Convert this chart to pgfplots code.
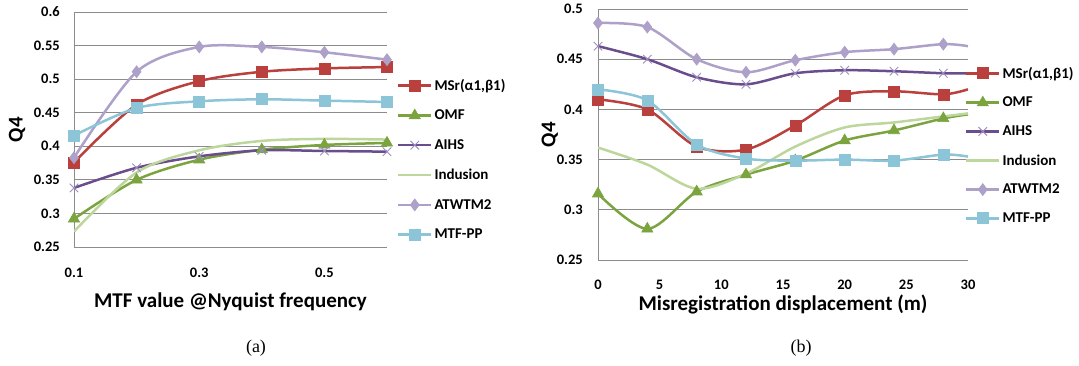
\documentclass[border=0pt]{standalone}
\usepackage{fontspec}
\setmainfont{Carlito}
\newfontfamily\capfont{Liberation Serif}
\usepackage{pgfplots}
\usepackage{pgfplotstable}
\pgfplotsset{compat=1.18}

\definecolor{cMSr}{HTML}{B9403C}
\definecolor{cOMF}{HTML}{7BA43F}
\definecolor{cAIHS}{HTML}{6A4D8D}
\definecolor{cAIHSm}{HTML}{9D8EC2}
\definecolor{cInd}{HTML}{BDD69B}
\definecolor{cATW}{HTML}{ADA0C9}
\definecolor{cMTF}{HTML}{8CC5D7}
\definecolor{cgrid}{HTML}{8C8C8C}

\pgfplotstableread{
x   MSr   OMF   AIHS  Ind   ATW   MTF
0.1 0.376 0.292 0.338 0.273 0.383 0.416
0.2 0.462 0.350 0.368 0.361 0.511 0.457
0.3 0.497 0.380 0.385 0.394 0.548 0.467
0.4 0.511 0.395 0.394 0.408 0.548 0.470
0.5 0.516 0.402 0.393 0.411 0.540 0.468
0.6 0.518 0.405 0.392 0.410 0.529 0.466
}\dL

\pgfplotstableread{
x  MSr   OMF   AIHS  Ind   ATW   MTF
0  0.410 0.316 0.463 0.362 0.486 0.420
4  0.400 0.281 0.450 0.345 0.482 0.409
8  0.363 0.318 0.432 0.321 0.450 0.365
12 0.360 0.335 0.425 0.336 0.437 0.351
16 0.384 0.349 0.436 0.363 0.449 0.349
20 0.414 0.369 0.439 0.382 0.457 0.350
24 0.418 0.379 0.438 0.387 0.460 0.349
28 0.415 0.391 0.436 0.393 0.465 0.355
30 0.420 0.395 0.436 0.396 0.463 0.353
}\dR

\pgfplotsset{
  common/.style={
    scale only axis,
    axis lines*=left,
    axis line style={cgrid, line width=1pt},
    ymajorgrids,
    major grid style={cgrid, line width=0.9pt},
    tick style={draw=none},
    /pgf/number format/assume math mode=true,
    ticklabel style={font=\bfseries\fontsize{14.5}{14.5}\selectfont, inner sep=0pt},
    label style={font=\bfseries\fontsize{21}{21}\selectfont, anchor=center},
    legend style={draw=none, fill=none, font=\bfseries\fontsize{15}{15}\selectfont,
      anchor=north west, inner sep=0pt, outer sep=0pt},
    legend cell align=left,
    legend image code/.code={\draw[mark repeat=2,mark phase=2,##1] plot coordinates {(0pt,0pt) (16.5pt,0pt) (33pt,0pt)};},
    every axis plot/.append style={line width=2.5pt, smooth},
  },
  sMSr/.style={cMSr, mark=square*, mark size=5.5pt, mark options={fill=cMSr, draw=cMSr, line width=0.6pt}},
  sOMF/.style={cOMF, mark=triangle*, mark size=6.5pt, mark options={fill=cOMF, draw=cOMF, line width=0.6pt}},
  sAIHS/.style={cAIHS, mark=x, mark size=6pt, mark options={draw=cAIHSm, line width=0.9pt}},
  sInd/.style={cInd, no markers},
  sATW/.style={cATW, mark=diamond*, mark size=6pt, mark options={fill=cATW, draw=cATW, line width=0.6pt}},
  sMTF/.style={cMTF, mark=square*, mark size=5.5pt, mark options={fill=cMTF, draw=cMTF, line width=0.6pt}},
}

\begin{document}
\begin{tikzpicture}
\useasboundingbox (0,0) rectangle (1079pt,365pt);

% ---------- (a) ----------
\begin{axis}[common,
  at={(74pt,118pt)}, anchor=south west,
  width=313pt, height=235pt,
  xmin=0.1, xmax=0.6, ymin=0.25, ymax=0.6,
  xtick={0.1,0.3,0.5}, xticklabels={0.1,0.3,0.5},
  ytick={0.25,0.3,0.35,0.4,0.45,0.5,0.55,0.6},
  yticklabels={0.25,0.3,0.35,0.4,0.45,0.5,0.55,0.6},
  xticklabel style={anchor=center, yshift=-26pt},
  yticklabel style={anchor=east, xshift=-14pt},
  xlabel={MTF value @Nyquist frequency},
  ylabel={Q4},
  xlabel style={at={(axis description cs:0.5,-0.234)}},
  ylabel style={at={(axis description cs:-0.182,0.5)}},
  legend style={at={(rel axis cs:1.032,0.723)}, row sep=14.2pt},
]
\addplot[sMSr] table[x=x,y=MSr]{\dL}; \addlegendentry{MSr(α1,β1)}
\addplot[sOMF] table[x=x,y=OMF]{\dL}; \addlegendentry{OMF}
\addplot[sAIHS] table[x=x,y=AIHS]{\dL}; \addlegendentry{AIHS}
\addplot[sInd] table[x=x,y=Ind]{\dL}; \addlegendentry{Indusion}
\addplot[sATW] table[x=x,y=ATW]{\dL}; \addlegendentry{ATWTM2}
\addplot[sMTF] table[x=x,y=MTF]{\dL}; \addlegendentry{MTF-PP}
\end{axis}

% ---------- (b) ----------
\begin{axis}[common,
  at={(598pt,105pt)}, anchor=south west,
  width=370pt, height=251pt,
  xmin=0, xmax=30, ymin=0.25, ymax=0.5,
  xtick={0,5,10,15,20,25,30},
  ytick={0.25,0.3,0.35,0.4,0.45,0.5},
  yticklabels={0.25,0.3,0.35,0.4,0.45,0.5},
  xticklabel style={anchor=center, yshift=-25pt},
  yticklabel style={anchor=east, xshift=-15pt},
  xlabel={Misregistration displacement (m)},
  ylabel={Q4},
  xlabel style={at={(axis description cs:0.5,-0.178)}},
  ylabel style={at={(axis description cs:-0.130,0.5)}},
  legend style={at={(rel axis cs:0.992,0.777)}, row sep=13.4pt},
]
\addplot[sMSr, no markers, forget plot] table[x=x,y=MSr]{\dR};
\addplot[sMSr, only marks, forget plot, restrict x to domain=0:29] table[x=x,y=MSr]{\dR};
\addplot[sOMF, no markers, forget plot] table[x=x,y=OMF]{\dR};
\addplot[sOMF, only marks, forget plot, restrict x to domain=0:29] table[x=x,y=OMF]{\dR};
\addplot[sAIHS, no markers, forget plot] table[x=x,y=AIHS]{\dR};
\addplot[sAIHS, only marks, forget plot, restrict x to domain=0:29] table[x=x,y=AIHS]{\dR};
\addplot[sInd, forget plot] table[x=x,y=Ind]{\dR};
\addplot[sATW, no markers, forget plot] table[x=x,y=ATW]{\dR};
\addplot[sATW, only marks, forget plot, restrict x to domain=0:29] table[x=x,y=ATW]{\dR};
\addplot[sMTF, no markers, forget plot] table[x=x,y=MTF]{\dR};
\addplot[sMTF, only marks, forget plot, restrict x to domain=0:29] table[x=x,y=MTF]{\dR};
\addlegendimage{sMSr} \addlegendentry{MSr(α1,β1)}
\addlegendimage{sOMF} \addlegendentry{OMF}
\addlegendimage{sAIHS} \addlegendentry{AIHS}
\addlegendimage{sInd} \addlegendentry{Indusion}
\addlegendimage{sATW} \addlegendentry{ATWTM2}
\addlegendimage{sMTF} \addlegendentry{MTF-PP}
\end{axis}

\node[font=\capfont\fontsize{18}{18}\selectfont] at (256pt,17pt) {(a)};
\node[font=\capfont\fontsize{18}{18}\selectfont] at (801pt,17pt) {(b)};
\end{tikzpicture}
\end{document}
